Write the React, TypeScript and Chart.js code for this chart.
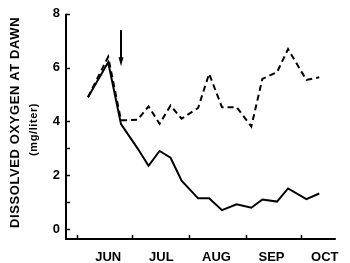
import React, { useEffect, useRef } from "react";
import { Chart, registerables } from "chart.js";

Chart.register(...registerables);

// Sampling days counted from June 1
const sampleDays = [6, 17, 24, 33, 39, 45, 51, 57, 66, 72, 79, 87, 95, 101, 109, 115, 125, 132];
const solidValues = [4.9, 6.2, 3.9, 3.0, 2.35, 2.9, 2.65, 1.8, 1.14, 1.14, 0.7, 0.92, 0.79, 1.1, 1.02, 1.51, 1.11, 1.32];
const dashedValues = [4.9, 6.4, 4.04, 4.06, 4.56, 3.91, 4.59, 4.1, 4.5, 5.77, 4.53, 4.53, 3.81, 5.58, 5.83, 6.69, 5.54, 5.64];

const monthLabels = ["JUN", "JUL", "AUG", "SEP", "OCT"];
const monthLabelDays = [17, 46, 76, 106, 135];
const monthStartDays = [0, 30, 61, 92, 122];

const yLabelValues = [0, 2, 4, 6, 8];
const yTickValues = [0, 1, 2, 3, 4, 6, 8];

const yTitle = "DISSOLVED OXYGEN AT DAWN";
const yUnit = "(mg/liter)";

const arrowDay = 24;
const arrowFrom = 7.4;
const arrowTo = 6.05;

const X_MIN = -5.97;
const X_MAX = 141;
const Y_MIN = -0.37;
const Y_MAX = 8;

const FONT = "'Liberation Sans', Arial, sans-serif";

const decorPlugin = {
  id: "decor",
  afterDraw(chart: any) {
    const ctx = chart.ctx;
    const { left, right, top, bottom } = chart.chartArea;
    const xs = chart.scales.x;
    const ys = chart.scales.y;
    ctx.save();
    ctx.strokeStyle = "#000";
    ctx.fillStyle = "#000";
    // axes
    ctx.lineWidth = 2;
    ctx.beginPath();
    ctx.moveTo(left, top);
    ctx.lineTo(left, bottom);
    ctx.lineTo(right, bottom);
    ctx.stroke();
    // y tick marks (inward)
    ctx.lineWidth = 1.5;
    yTickValues.forEach((v) => {
      const y = Math.round(ys.getPixelForValue(v)) + 0.5;
      ctx.beginPath();
      ctx.moveTo(left, y);
      ctx.lineTo(left + 4, y);
      ctx.stroke();
    });
    // x tick marks (inward)
    monthStartDays.forEach((d) => {
      const x = Math.round(xs.getPixelForValue(d)) + 0.5;
      ctx.beginPath();
      ctx.moveTo(x, bottom);
      ctx.lineTo(x, bottom - 4);
      ctx.stroke();
    });
    // arrow
    const ax = xs.getPixelForValue(arrowDay);
    const ay1 = ys.getPixelForValue(arrowFrom);
    const ay2 = ys.getPixelForValue(arrowTo);
    ctx.lineWidth = 2;
    ctx.beginPath();
    ctx.moveTo(ax, ay1);
    ctx.lineTo(ax, ay2 - 6);
    ctx.stroke();
    ctx.beginPath();
    ctx.moveTo(ax - 2.5, ay2 - 9);
    ctx.lineTo(ax + 2.5, ay2 - 9);
    ctx.lineTo(ax, ay2);
    ctx.closePath();
    ctx.fill();
    // y titles
    const cy = (top + bottom) / 2;
    ctx.textAlign = "center";
    ctx.textBaseline = "middle";
    ctx.save();
    ctx.translate(15, cy - 4);
    ctx.rotate(-Math.PI / 2);
    ctx.font = `bold 13px ${FONT}`;
    (ctx as any).letterSpacing = "0.6px";
    ctx.fillText(yTitle, 0, 0);
    ctx.restore();
    ctx.save();
    ctx.translate(34, cy + 3);
    ctx.rotate(-Math.PI / 2);
    ctx.font = `bold 11px ${FONT}`;
    (ctx as any).letterSpacing = "0.6px";
    ctx.fillText(yUnit, 0, 0);
    ctx.restore();
    ctx.restore();
  },
};

export default function App() {
  const ref = useRef<HTMLCanvasElement | null>(null);
  useEffect(() => {
    document.body.style.margin = "0";
    const canvas = ref.current!;
    const chart = new Chart(canvas, {
      type: "line",
      data: {
        datasets: [
          {
            data: sampleDays.map((d, i) => ({ x: d, y: solidValues[i] })),
            borderColor: "#000",
            borderWidth: 2,
            pointRadius: 0,
            tension: 0,
            fill: false,
          },
          {
            data: sampleDays.map((d, i) => ({ x: d, y: dashedValues[i] })),
            borderColor: "#000",
            borderWidth: 2,
            borderDash: [6, 4],
            pointRadius: 0,
            tension: 0,
            fill: false,
          },
        ],
      },
      options: {
        responsive: false,
        animation: false,
        devicePixelRatio: 1,
        layout: { padding: { top: 12, right: 13, left: 0, bottom: 0 } },
        plugins: { legend: { display: false }, tooltip: { enabled: false } },
        scales: {
          x: {
            type: "linear",
            min: X_MIN,
            max: X_MAX,
            grid: { display: false, drawTicks: false },
            border: { display: false },
            afterBuildTicks: (s: any) => {
              s.ticks = monthLabelDays.map((v) => ({ value: v }));
            },
            afterFit: (s: any) => {
              s.height = 24;
            },
            ticks: {
              autoSkip: false,
              maxRotation: 0,
              padding: 11,
              color: "#000",
              font: { family: FONT, size: 13, weight: "bold" },
              callback: (v: any) => {
                const i = monthLabelDays.indexOf(Number(v));
                return i >= 0 ? monthLabels[i] : "";
              },
            },
          },
          y: {
            type: "linear",
            min: Y_MIN,
            max: Y_MAX,
            grid: { display: false, drawTicks: false },
            border: { display: false },
            afterBuildTicks: (s: any) => {
              s.ticks = yLabelValues.map((v) => ({ value: v }));
            },
            afterFit: (s: any) => {
              s.width = 66;
            },
            ticks: {
              autoSkip: false,
              padding: 6,
              color: "#000",
              font: { family: FONT, size: 13, weight: "bold" },
              callback: (v: any) => String(v),
            },
          },
        },
      },
      plugins: [decorPlugin],
    });
    return () => chart.destroy();
  }, []);
  return (
    <canvas
      ref={ref}
      width={350}
      height={263}
      style={{ display: "block", width: 350, height: 263 }}
    />
  );
}
